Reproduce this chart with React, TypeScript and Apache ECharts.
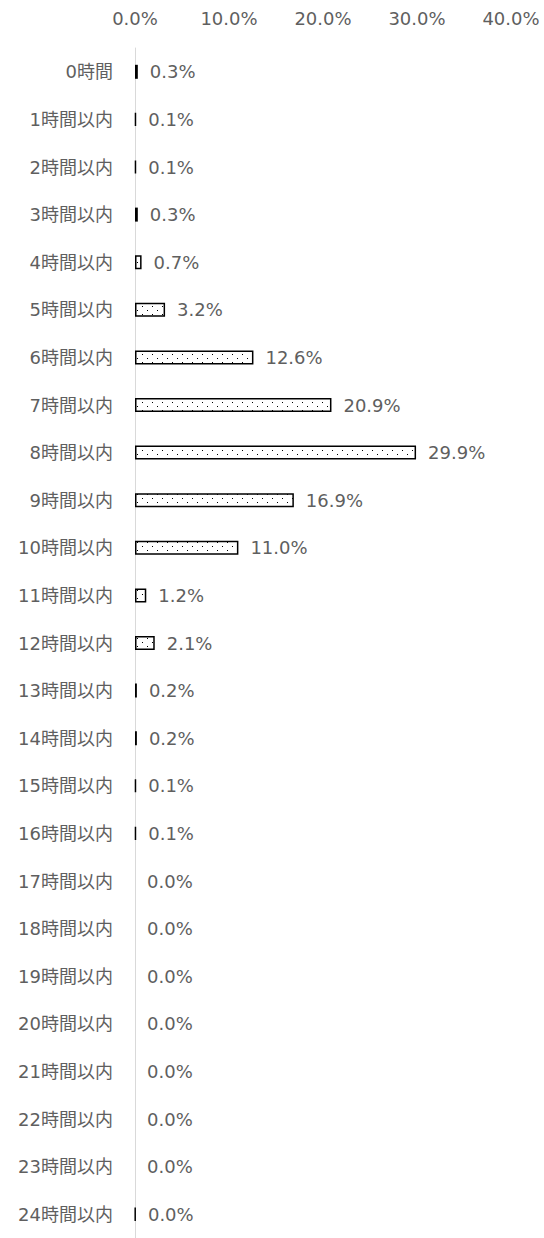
import React, { useEffect, useRef } from "react";
import * as echarts from "echarts";

const categories = [
  "0時間", "1時間以内", "2時間以内", "3時間以内", "4時間以内", "5時間以内",
  "6時間以内", "7時間以内", "8時間以内", "9時間以内", "10時間以内", "11時間以内",
  "12時間以内", "13時間以内", "14時間以内", "15時間以内", "16時間以内", "17時間以内",
  "18時間以内", "19時間以内", "20時間以内", "21時間以内", "22時間以内", "23時間以内",
  "24時間以内",
];
const values = [
  0.3, 0.1, 0.1, 0.3, 0.7, 3.2, 12.6, 20.9, 29.9, 16.9, 11.0, 1.2, 2.1,
  0.2, 0.2, 0.1, 0.1, 0, 0, 0, 0, 0, 0, 0, 0.04,
];
const tickValues = [0, 10, 20, 30, 40];

const FONT = "Verdana, 'DejaVu Sans', 'Noto Sans CJK JP', sans-serif";
const TEXT = "#5f5f5f";

function makePattern(): HTMLCanvasElement {
  const c = document.createElement("canvas");
  c.width = 10;
  c.height = 8;
  const ctx = c.getContext("2d")!;
  ctx.fillStyle = "#ffffff";
  ctx.fillRect(0, 0, 10, 8);
  ctx.fillStyle = "#000000";
  ctx.fillRect(2, 2, 1, 1);
  ctx.fillRect(7, 6, 1, 1);
  return c;
}

export default function App() {
  const ref = useRef<HTMLDivElement>(null);
  useEffect(() => {
    if (!ref.current) return;
    const chart = echarts.init(ref.current, undefined, { renderer: "svg" });
    const pattern = makePattern();
    chart.setOption({
      animation: false,
      backgroundColor: "#ffffff",
      grid: { left: 135, right: 33, top: 48, height: 1192, containLabel: false },
      xAxis: {
        type: "value",
        position: "top",
        min: tickValues[0],
        max: tickValues[tickValues.length - 1],
        interval: 10,
        axisLine: { show: false },
        axisTick: { show: false },
        splitLine: { show: false },
        axisLabel: {
          margin: 21,
          color: TEXT,
          fontSize: 18,
          fontFamily: FONT,
          formatter: (v: number) => v.toFixed(1) + "%",
        },
      },
      yAxis: {
        type: "category",
        inverse: true,
        data: categories,
        axisLine: { show: true, lineStyle: { color: "#d9d9d9", width: 1 } },
        axisTick: { show: false },
        axisLabel: { margin: 22, color: TEXT, fontSize: 18, fontFamily: FONT },
      },
      series: [
        {
          type: "bar",
          barWidth: 14,
          data: values.map((v) => ({
            value: v,
            itemStyle: v === 0 ? { borderWidth: 0, opacity: 0 } : undefined,
          })),
          itemStyle: {
            color: { image: pattern, repeat: "repeat" } as any,
            borderColor: "#000000",
            borderWidth: 1.5,
          },
          label: {
            show: true,
            position: "right",
            distance: 12,
            color: TEXT,
            fontSize: 18,
            fontFamily: FONT,
            opacity: 1,
            formatter: (p: any) => Number(p.value).toFixed(1) + "%",
          },
        },
      ],
    });
    return () => chart.dispose();
  }, []);
  return (
    <div
      ref={ref}
      style={{ position: "absolute", left: 0, top: 0, width: 544, height: 1238 }}
    />
  );
}
